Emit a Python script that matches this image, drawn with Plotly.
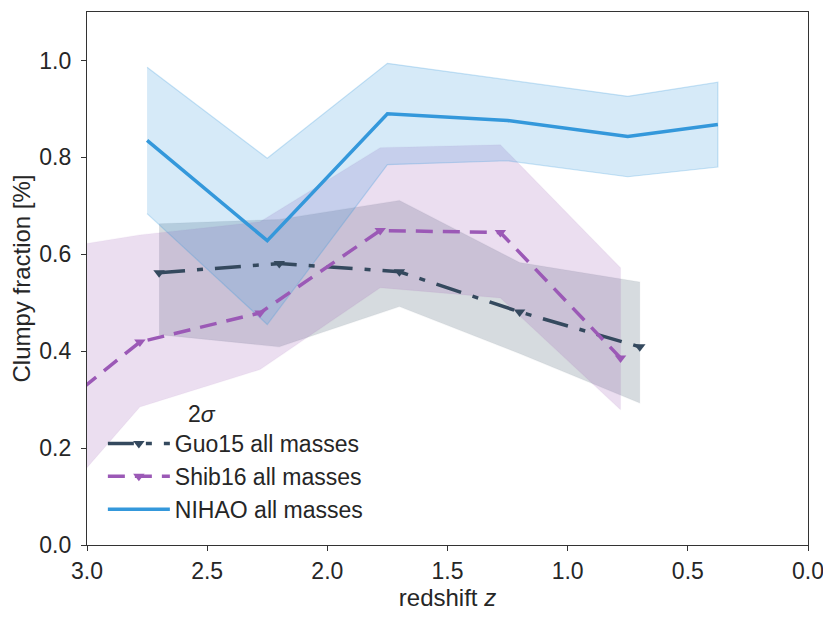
import plotly.graph_objects as go

# NIHAO
nihao_z = [2.75, 2.25, 1.75, 1.25, 0.75, 0.375]
nihao_f = [0.835, 0.628, 0.890, 0.876, 0.843, 0.868]
nihao_lo = [0.684, 0.455, 0.785, 0.793, 0.760, 0.780]
nihao_hi = [0.986, 0.798, 0.994, 0.960, 0.926, 0.955]

# Guo15
guo_z = [2.7, 2.2, 1.7, 1.2, 0.7]
guo_f = [0.562, 0.581, 0.564, 0.481, 0.409]
guo_lo = [0.434, 0.409, 0.492, 0.395, 0.293]
guo_hi = [0.663, 0.672, 0.711, 0.583, 0.543]

# Shib16
shib_z = [3.28, 2.78, 2.28, 1.78, 1.28, 0.78]
shib_f = [0.22, 0.419, 0.479, 0.649, 0.645, 0.386]
shib_lo = [0.0, 0.285, 0.362, 0.531, 0.510, 0.279]
shib_hi = [0.60, 0.640, 0.667, 0.820, 0.826, 0.572]

C_NIHAO = "#3498db"
C_GUO = "#34495e"
C_SHIB = "#9b59b6"

def rgba(hexc, a):
    h = hexc.lstrip("#")
    r, g, b = int(h[0:2], 16), int(h[2:4], 16), int(h[4:6], 16)
    return f"rgba({r},{g},{b},{a})"

fig = go.Figure()

def band(z, lo, hi, col, edge_alpha):
    fig.add_trace(go.Scatter(
        x=list(z) + list(z)[::-1], y=list(hi) + list(lo)[::-1],
        fill="toself", fillcolor=rgba(col, 0.2),
        line=dict(color=rgba(col, edge_alpha), width=1.2),
        mode="lines", showlegend=False, hoverinfo="skip"))

band(guo_z, guo_lo, guo_hi, C_GUO, 0.05)
band(shib_z, shib_lo, shib_hi, C_SHIB, 0.05)
band(nihao_z, nihao_lo, nihao_hi, C_NIHAO, 0.25)

fig.add_trace(go.Scatter(
    x=nihao_z, y=nihao_f, mode="lines", name="NIHAO all masses",
    line=dict(color=C_NIHAO, width=3.5), legendrank=3))
fig.add_trace(go.Scatter(
    x=guo_z, y=guo_f, mode="lines+markers", name="Guo15 all masses",
    line=dict(color=C_GUO, width=3.5, dash="26px,12px,6px,12px"),
    marker=dict(symbol="triangle-down", size=10, color=C_GUO), legendrank=1))
fig.add_trace(go.Scatter(
    x=shib_z, y=shib_f, mode="lines+markers", name="Shib16 all masses",
    line=dict(color=C_SHIB, width=3.5, dash="17px,10px"),
    marker=dict(symbol="triangle-down", size=10, color=C_SHIB), legendrank=2))

axis_common = dict(
    showline=True, linecolor="#333333", linewidth=1.2, mirror=True,
    ticks="outside", ticklen=5, tickwidth=1.2, tickcolor="#333333",
    showgrid=False, zeroline=False, automargin=False,
    tickfont=dict(family="Liberation Sans, Arial", size=23, color="#262626"),
)

# the page body has an 8px margin, so the margins compensate for it
fig.update_layout(
    width=831, height=618,
    margin=dict(l=79, r=31, t=4, b=81),
    paper_bgcolor="white", plot_bgcolor="white",
    font=dict(family="Liberation Sans, Arial", color="#262626"),
    xaxis=dict(range=[3.0, 0.0], tickvals=[3.0, 2.5, 2.0, 1.5, 1.0, 0.5, 0.0],
               tickformat=".1f",
               title=dict(text="redshift <i>z</i>", font=dict(size=24), standoff=2),
               **axis_common),
    yaxis=dict(range=[0.0, 1.1], tickvals=[0.0, 0.2, 0.4, 0.6, 0.8, 1.0],
               tickformat=".1f", ticklabelstandoff=5,
               title=dict(text="Clumpy fraction [%]", font=dict(size=24), standoff=4),
               **axis_common),
    legend=dict(
        x=0.022, y=0.287, xanchor="left", yanchor="top",
        bgcolor="rgba(0,0,0,0)",
        font=dict(size=23, color="#262626"),
        title=dict(text="             2<i>σ</i>", font=dict(size=23, color="#262626"), side="top"),
        itemwidth=62, tracegroupgap=2,
    ),
)

fig.write_html("out.html")
